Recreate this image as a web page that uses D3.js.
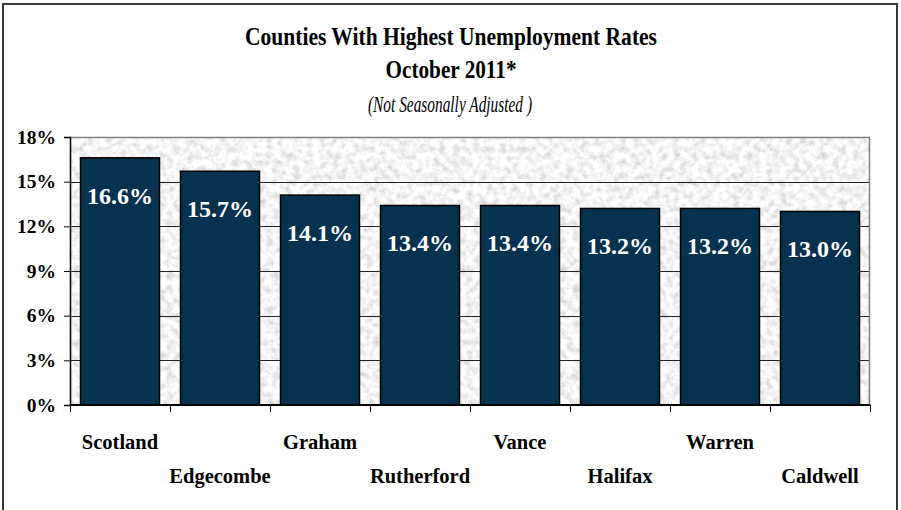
<!DOCTYPE html>
<html>
<head>
<meta charset="utf-8">
<script src="https://cdn.jsdelivr.net/npm/d3@7"></script>
<style>
  body { margin: 0; background: #fff; }
  svg { display: block; }
  svg text { font-family: 'Liberation Serif', 'Times New Roman', serif; }
</style>
</head>
<body>
<svg width="901" height="510"></svg>
<script>
'use strict';

const counties = [
  'Scotland',
  'Edgecombe',
  'Graham',
  'Rutherford',
  'Vance',
  'Halifax',
  'Warren',
  'Caldwell'
];

const rates = [16.6, 15.7, 14.1, 13.4, 13.4, 13.2, 13.2, 13.0];

const y_ticks = [0, 3, 6, 9, 12, 15, 18];

const title_lines = [
  'Counties With Highest Unemployment Rates',
  'October 2011*'
];
const subtitle = '(Not Seasonally Adjusted )';

const serif = "'Liberation Serif', 'Times New Roman', serif";
const svg = d3.select('svg');
const plot = { left: 70, top: 137, right: 870, bottom: 405 };

// outer frame
svg.append('rect')
  .attr('x', 3).attr('y', 4)
  .attr('width', 894).attr('height', 520)
  .attr('fill', '#fff')
  .attr('stroke', '#3a3a3a')
  .attr('stroke-width', 2);

// titles (the original font is tall and narrow, so squeeze it)
const title_width = [412, 131];
svg.selectAll('text.title').data(title_lines).join('text')
  .attr('class', 'title')
  .attr('x', 451)
  .attr('y', (d, i) => 45 + i * 33)
  .attr('text-anchor', 'middle')
  .attr('font-size', 25)
  .attr('font-weight', 'bold')
  .attr('textLength', (d, i) => title_width[i])
  .attr('lengthAdjust', 'spacingAndGlyphs')
  .style('font-family', serif)
  .attr('fill', '#000')
  .text(d => d);

svg.append('text')
  .attr('x', 450).attr('y', 112)
  .attr('text-anchor', 'middle')
  .attr('font-size', 23)
  .attr('font-style', 'italic')
  .attr('textLength', 164)
  .attr('lengthAdjust', 'spacingAndGlyphs')
  .style('font-family', serif)
  .text(subtitle);

const x = d3.scaleBand()
  .domain(counties)
  .range([plot.left, plot.right])
  .paddingInner(0.21)
  .paddingOuter(0.105);

const y = d3.scaleLinear()
  .domain([0, 18])
  .range([plot.bottom, plot.top]);

// stone texture background
const defs = svg.append('defs');
const filter = defs.append('filter')
  .attr('id', 'stone')
  .attr('filterUnits', 'userSpaceOnUse')
  .attr('x', plot.left).attr('y', plot.top)
  .attr('width', plot.right - plot.left)
  .attr('height', plot.bottom - plot.top);
filter.append('feTurbulence')
  .attr('type', 'fractalNoise')
  .attr('baseFrequency', 0.15)
  .attr('numOctaves', 3)
  .attr('seed', 7);
filter.append('feColorMatrix')
  .attr('type', 'matrix')
  .attr('values', '0.7 0 0 0 0.56  0.7 0 0 0 0.56  0.7 0 0 0 0.56  0 0 0 0 1');

svg.append('rect')
  .attr('x', plot.left).attr('y', plot.top)
  .attr('width', plot.right - plot.left)
  .attr('height', plot.bottom - plot.top)
  .attr('fill', '#e8e8e8')
  .attr('filter', 'url(#stone)');

// gridlines
svg.append('g')
  .selectAll('line')
  .data(y_ticks.filter(t => t > 0 && t < 18))
  .join('line')
  .attr('x1', plot.left).attr('x2', plot.right)
  .attr('y1', d => Math.round(y(d)) + 0.5)
  .attr('y2', d => Math.round(y(d)) + 0.5)
  .attr('stroke', '#222')
  .attr('stroke-width', 1);

// plot border (top and right)
svg.append('path')
  .attr('d', `M${plot.left},${plot.top + 0.5} H${plot.right - 0.5} V${plot.bottom}`)
  .attr('fill', 'none')
  .attr('stroke', '#808080')
  .attr('stroke-width', 1.5);

// bars
svg.append('g')
  .selectAll('rect')
  .data(counties)
  .join('rect')
  .attr('x', d => x(d))
  .attr('y', (d, i) => y(rates[i]))
  .attr('width', x.bandwidth())
  .attr('height', (d, i) => y(0) - y(rates[i]))
  .attr('fill', '#07324f')
  .attr('stroke', '#000')
  .attr('stroke-width', 1.5);

// value labels
svg.append('g')
  .selectAll('text')
  .data(counties)
  .join('text')
  .attr('x', d => x(d) + x.bandwidth() / 2)
  .attr('y', (d, i) => y(rates[i]) + 46)
  .attr('text-anchor', 'middle')
  .attr('font-size', 24)
  .attr('font-weight', 'bold')
  .style('font-family', serif)
  .attr('fill', '#fff')
  .text((d, i) => rates[i].toFixed(1) + '%');

// y axis
const y_axis = svg.append('g')
  .attr('transform', `translate(${plot.left},0)`)
  .call(d3.axisLeft(y).tickValues(y_ticks).tickFormat(d => d + '%').tickSize(6).tickPadding(8));
y_axis.select('.domain').attr('stroke', '#000').attr('stroke-width', 1.5);
y_axis.selectAll('.tick line').attr('stroke', '#000');
y_axis.selectAll('.tick text')
  .style('font-family', serif)
  .attr('font-size', 19.5)
  .attr('font-weight', 'bold')
  .attr('fill', '#000');

// x axis: ticks on band boundaries, staggered labels
const boundaries = counties.map(d => x(d) - x.step() * x.paddingInner() / 2).slice(1);
boundaries.unshift(plot.left);
boundaries.push(plot.right);

svg.append('line')
  .attr('x1', plot.left).attr('x2', plot.right)
  .attr('y1', plot.bottom).attr('y2', plot.bottom)
  .attr('stroke', '#000')
  .attr('stroke-width', 2);

svg.append('g')
  .selectAll('line')
  .data(boundaries)
  .join('line')
  .attr('x1', d => Math.round(d) + 0.5).attr('x2', d => Math.round(d) + 0.5)
  .attr('y1', plot.bottom).attr('y2', plot.bottom + 7)
  .attr('stroke', '#000');

svg.append('g')
  .selectAll('text')
  .data(counties)
  .join('text')
  .attr('x', d => x(d) + x.bandwidth() / 2)
  .attr('y', (d, i) => i % 2 === 0 ? 449 : 483)
  .attr('text-anchor', 'middle')
  .attr('font-size', 20.5)
  .attr('font-weight', 'bold')
  .style('font-family', serif)
  .text(d => d);
</script>
</body>
</html>
